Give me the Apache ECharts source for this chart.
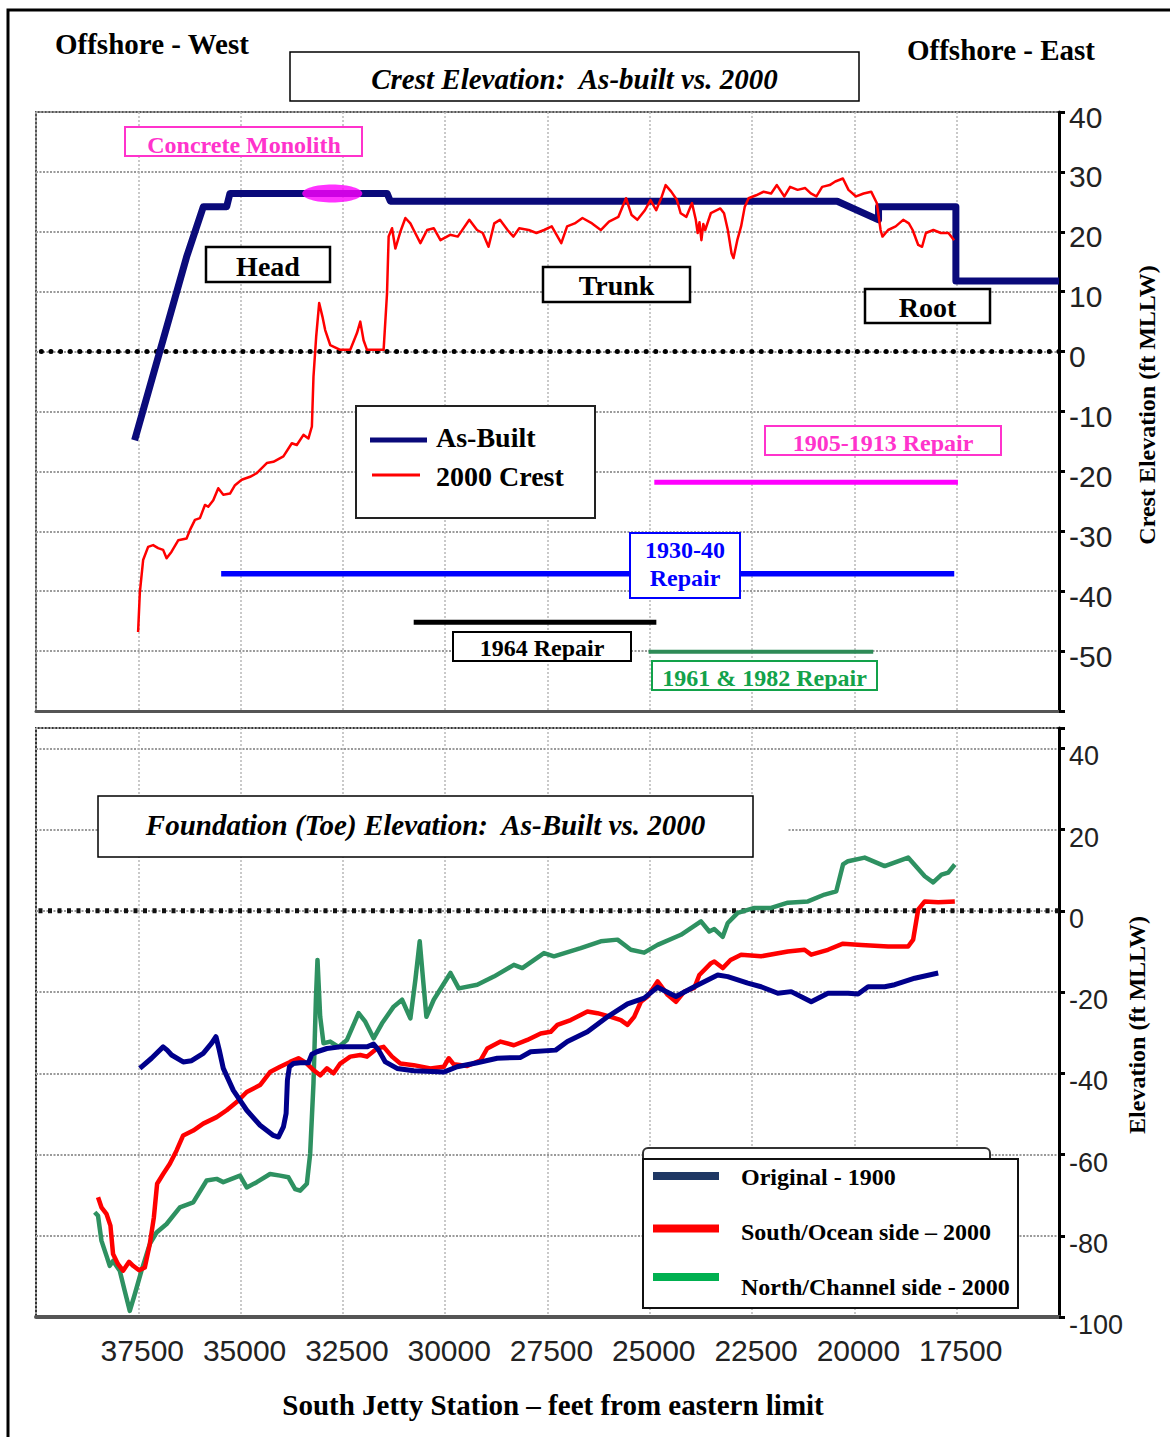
<!DOCTYPE html>
<html>
<head>
<meta charset="utf-8">
<script src="https://cdn.jsdelivr.net/npm/echarts@6/dist/echarts.min.js"></script>
<style>
html, body { margin: 0; padding: 0; background: #fff; }
#chart { width: 1170px; height: 1437px; }
</style>
</head>
<body>
<div id="chart"></div>
<script>
// ---- Axis tick labels ----
const stationTicks = [37500, 35000, 32500, 30000, 27500, 25000, 22500, 20000, 17500];
const crestTicks = [40, 30, 20, 10, 0, -10, -20, -30, -40, -50];
const toeTicks = [40, 20, 0, -20, -40, -60, -80, -100];

// ---- Crest elevation (ft MLLW) by station (ft from eastern limit) ----
const asBuilt = [
  [37590, -14.8], [36320, 15.8], [35910, 24.2], [35340, 24.2], [35260, 26.4],
  [31420, 26.4], [31340, 25.1], [20420, 25.1], [19410, 22.0], [19410, 24.2],
  [17520, 24.2], [17520, 11.8], [15000, 11.8]
];

const monolith = [[32760, 26.4]];

const crest2000 = [
  [37505, -46.8], [37463, -40.3], [37382, -34.8], [37260, -32.6], [37138, -32.3],
  [37015, -32.8], [36893, -33.1], [36809, -34.5], [36687, -33.4], [36525, -31.5],
  [36320, -31.2], [36239, -29.8], [36116, -28.1], [35994, -27.8], [35871, -25.6],
  [35791, -25.9], [35668, -24.8], [35546, -22.8], [35423, -23.9], [35259, -23.7],
  [35137, -22.3], [34973, -21.4], [34769, -20.9], [34605, -20.3], [34360, -18.6],
  [34199, -18.4], [33954, -17.5], [33748, -15.3], [33626, -15.6], [33464, -13.9],
  [33342, -14.5], [33258, -12.5], [33219, -4.2], [33153, 2.5], [33080, 8.1],
  [32999, 5.8], [32933, 3.6], [32810, 1.1], [32565, 0.3], [32320, 0.3],
  [32156, 3.1], [32075, 5.0], [31995, 1.9], [31911, 0.3], [31505, 0.3],
  [31422, 9.7], [31382, 19.2], [31299, 20.6], [31218, 17.2], [31096, 20.0],
  [30973, 22.3], [30851, 21.4], [30770, 20.3], [30606, 18.1], [30442, 20.3],
  [30280, 20.6], [30116, 18.6], [29879, 19.5], [29693, 19.2], [29411, 22.0],
  [29222, 20.3], [29083, 19.8], [28941, 17.5], [28801, 21.4], [28662, 22.0],
  [28476, 20.3], [28333, 19.2], [28191, 20.6], [27959, 20.3], [27770, 19.8],
  [27584, 20.3], [27396, 20.9], [27163, 18.1], [27021, 20.9], [26835, 21.4],
  [26646, 22.3], [26411, 21.4], [26198, 20.3], [25997, 21.7], [25767, 22.5],
  [25581, 25.6], [25444, 22.8], [25304, 22.0], [25120, 23.6], [24983, 25.3],
  [24844, 23.6], [24706, 25.9], [24613, 27.8], [24476, 26.7], [24337, 25.3],
  [24246, 23.1], [24106, 22.5], [23969, 24.8], [23876, 22.0], [23830, 19.8],
  [23786, 21.6], [23739, 18.6], [23692, 21.3], [23646, 20.3], [23509, 23.1],
  [23276, 23.9], [23186, 23.1], [23093, 20.3], [23002, 16.4], [22955, 15.6],
  [22862, 18.6], [22769, 20.9], [22679, 24.2], [22586, 25.6], [22402, 26.1],
  [22218, 26.7], [22035, 26.4], [21895, 27.8], [21711, 25.9], [21572, 27.5],
  [21388, 27.0], [21202, 27.3], [21065, 26.4], [20928, 25.9], [20788, 27.5],
  [20604, 27.8], [20467, 28.4], [20281, 28.9], [20144, 27.0], [19960, 25.9],
  [19774, 26.4], [19590, 26.7], [19453, 24.8], [19360, 20.3], [19314, 19.2],
  [19177, 20.3], [18991, 20.9], [18807, 22.0], [18669, 21.4], [18577, 20.3],
  [18440, 17.8], [18346, 17.5], [18253, 19.8], [18070, 20.3], [17886, 19.8],
  [17702, 19.8], [17563, 18.6]
];

// Repair campaigns: station extent, drawn at a fixed elevation row
const repair1905 = [[24890, -21.8], [17470, -21.8]];
const repair1930 = [[35475, -37.1], [17560, -37.1]];
const repair1964 = [[30770, -45.2], [24840, -45.2]];
const repair1961 = [[25030, -50.1], [19540, -50.1]];

// ---- Foundation (toe) elevation (ft MLLW) ----
const original1900 = [
  [37463, -38.8], [37177, -36.3], [36893, -33.5], [36795, -34.3], [36687, -35.5],
  [36403, -37.2], [36197, -36.9], [35913, -35.1], [35707, -32.6], [35602, -31.0],
  [35521, -34.3], [35423, -38.8], [35178, -44.2], [34850, -49.1], [34524, -52.8],
  [34199, -55.3], [34076, -55.7], [33954, -53.2], [33888, -49.9], [33856, -41.7],
  [33807, -38.4], [33709, -37.6], [33545, -37.4], [33342, -37.4], [33258, -35.3],
  [33136, -34.7], [32891, -33.9], [32565, -33.5], [31911, -33.5], [31750, -32.8],
  [31627, -34.3], [31463, -37.2], [31177, -38.8], [30770, -39.4], [30036, -39.7],
  [29707, -38.4], [29217, -37.4], [28728, -36.3], [28157, -36.1], [27912, -34.7],
  [27300, -34.3], [27013, -32.2], [26524, -29.8], [26034, -26.1], [25544, -22.9],
  [25138, -21.5], [24810, -18.8], [24361, -21.1], [23913, -18.7], [23340, -15.8],
  [23095, -16.2], [22605, -17.8], [22280, -18.7], [21871, -20.3], [21545, -19.9],
  [21055, -22.4], [20646, -20.3], [20156, -20.3], [19911, -20.5], [19666, -18.7],
  [19260, -18.7], [19015, -18.2], [18525, -16.6], [17952, -15.3]
];

const southOcean2000 = [
  [38484, -70.5], [38401, -73.0], [38279, -74.6], [38181, -77.5], [38117, -84.5],
  [37995, -87.0], [37872, -88.6], [37725, -86.4], [37627, -87.4], [37480, -88.5],
  [37341, -87.8], [37218, -82.0], [37120, -75.5], [37040, -67.2], [36893, -64.8],
  [36729, -62.3], [36564, -59.0], [36403, -55.3], [36158, -54.1], [35913, -52.4],
  [35585, -50.8], [35340, -49.1], [35095, -47.1], [34850, -44.6], [34524, -42.9],
  [34280, -39.7], [34035, -38.4], [33790, -37.2], [33587, -36.3], [33381, -37.6],
  [33219, -39.2], [33055, -40.5], [32891, -38.8], [32729, -40.0], [32565, -37.6],
  [32320, -35.9], [32075, -35.5], [31911, -35.9], [31667, -33.9], [31505, -33.5],
  [31299, -35.9], [31096, -37.6], [30770, -38.0], [30361, -38.8], [30036, -38.4],
  [29913, -36.3], [29791, -37.8], [29462, -38.2], [29137, -36.8], [28973, -33.9],
  [28647, -32.2], [28321, -33.1], [27993, -31.8], [27667, -30.2], [27422, -29.8],
  [27258, -28.1], [26933, -26.9], [26524, -24.8], [26279, -25.2], [25953, -26.1],
  [25708, -26.9], [25544, -28.1], [25382, -26.1], [25218, -22.4], [25054, -21.1],
  [24810, -17.4], [24564, -20.7], [24361, -22.4], [24158, -19.9], [23913, -19.0],
  [23790, -15.8], [23504, -12.9], [23423, -12.5], [23218, -14.1], [23027, -12.1],
  [22769, -10.8], [22280, -11.2], [21626, -10.0], [21219, -9.6], [21055, -10.8],
  [20646, -9.6], [20279, -8.1], [19831, -8.4], [19177, -8.8], [18687, -8.8],
  [18564, -7.1], [18442, 0.3], [18281, 2.3], [17952, 2.1], [17546, 2.3]
];

const northChannel2000 = [
  [38565, -74.2], [38484, -75.1], [38401, -81.2], [38279, -84.9], [38198, -87.4],
  [38117, -86.2], [37953, -88.6], [37831, -93.6], [37708, -98.5], [37586, -94.4],
  [37422, -88.6], [37218, -82.0], [37054, -79.2], [36809, -77.1], [36484, -73.0],
  [36158, -71.8], [35830, -66.4], [35585, -66.0], [35423, -66.8], [35014, -65.2],
  [34850, -68.1], [34605, -66.8], [34280, -64.8], [34035, -65.2], [33831, -65.6],
  [33667, -68.5], [33545, -68.9], [33381, -67.2], [33300, -59.8], [33219, -42.5],
  [33160, -21.9], [33121, -12.1], [33055, -26.1], [32974, -32.6], [32810, -32.2],
  [32607, -33.5], [32401, -31.8], [32117, -25.2], [31953, -27.3], [31750, -31.4],
  [31544, -27.7], [31260, -23.6], [31054, -21.9], [30851, -26.5], [30729, -17.0],
  [30623, -7.5], [30540, -17.0], [30459, -26.1], [30280, -21.9], [29871, -15.3],
  [29668, -19.1], [29217, -18.2], [28811, -16.2], [28321, -13.3], [28116, -14.1],
  [27586, -10.4], [27342, -11.2], [26688, -9.2], [26198, -7.5], [25789, -7.1],
  [25463, -9.6], [25138, -10.3], [24810, -8.4], [24239, -5.9], [23749, -2.6],
  [23546, -5.1], [23423, -4.5], [23218, -6.4], [23095, -3.0], [22850, -0.5],
  [22444, 0.7], [22035, 0.7], [21626, 2.0], [21136, 2.3], [20729, 4.0],
  [20443, 4.8], [20278, 11.4], [20156, 12.2], [19749, 13.1], [19260, 11.0],
  [18687, 13.1], [18281, 8.5], [18075, 7.0], [17871, 8.9], [17707, 9.4],
  [17546, 11.4]
];

// Mean lower low water datum, spanning the full station range
const datum = [[15000, 0], [40000, 0]];

// ---- Drawing ----
const serif = '"Liberation Serif", "Times New Roman", serif';
const sans = '"Liberation Sans", Arial, sans-serif';

function textEl(x, y, text, size, fill, opts) {
  opts = opts || {};
  const align = opts.align || 'center';
  return {
    type: 'text', z: 40,
    x: x, y: y, rotation: opts.rotation || 0,
    style: {
      x: 0, y: 0, text: text, fill: fill || '#000',
      font: (opts.italic ? 'italic ' : '') + 'bold ' + size + 'px ' + serif,
      lineHeight: opts.lineHeight,
      textAlign: align, textVerticalAlign: 'middle',
      align: align, verticalAlign: 'middle'
    }
  };
}

function boxEl(x, y, w, h, stroke, lw, r) {
  return {
    type: 'rect', z: 35,
    shape: { x: x, y: y, width: w, height: h, r: r || 0 },
    style: { fill: '#fff', stroke: stroke, lineWidth: lw }
  };
}

function labelBox(x, y, w, h, tx, ty, text, size, color, lw, opts) {
  return [boxEl(x, y, w, h, color, lw), textEl(tx, ty, text, size, color, opts)];
}

const graphics = [].concat(
  // outer frame
  [{ type: 'polyline', z: 50, shape: { points: [[8, 1437], [8, 10], [1170, 10]] },
     style: { stroke: '#000', lineWidth: 3, fill: null } }],
  [textEl(55, 44, 'Offshore - West', 29, '#000', { align: 'left' }),
   textEl(907, 49.5, 'Offshore - East', 29, '#000', { align: 'left' })],
  labelBox(290, 52, 569, 49, 574.5, 78.5, 'Crest Elevation:  As-built vs. 2000', 29, '#000', 1.5, { italic: true }),
  labelBox(125, 127, 237, 29, 244, 144.5, 'Concrete Monolith', 24, '#ff33cc', 2),
  labelBox(206, 247, 124, 35, 268, 266, 'Head', 28, '#000', 2.5),
  labelBox(543, 267, 147, 35, 616.5, 285, 'Trunk', 28, '#000', 2.5),
  labelBox(865, 289, 125, 34, 927.5, 307.5, 'Root', 28, '#000', 2.5),
  labelBox(765, 426, 236, 29, 883, 443, '1905-1913 Repair', 24, '#ff33cc', 2),
  labelBox(630, 533, 110, 65, 685, 564, '1930-40\nRepair', 24, '#0000ff', 2, { lineHeight: 28.5 }),
  labelBox(453, 632, 178, 29, 542, 648, '1964 Repair', 24, '#000', 2),
  labelBox(652, 661, 225, 29, 764.5, 678, '1961 & 1982 Repair', 24, '#12a24a', 2),
  // crest legend
  [boxEl(356, 406, 239, 112, '#222', 2),
   { type: 'line', z: 40, shape: { x1: 370, y1: 440, x2: 427, y2: 440 }, style: { stroke: '#0a0a7a', lineWidth: 5 } },
   textEl(436, 437.5, 'As-Built', 28, '#000', { align: 'left' }),
   { type: 'line', z: 40, shape: { x1: 372, y1: 475, x2: 420, y2: 475 }, style: { stroke: '#ff0000', lineWidth: 3 } },
   textEl(436, 476.5, '2000 Crest', 28, '#000', { align: 'left' })],
  // toe panel title
  [{ type: 'rect', z: 34, shape: { x: 753, y: 826, width: 34, height: 10 }, style: { fill: '#fff' } }],
  labelBox(98, 796, 655, 61, 425.5, 824.5, 'Foundation (Toe) Elevation:  As-Built vs. 2000', 29, '#000', 1.5, { italic: true }),
  // toe legend
  [boxEl(643, 1148, 347, 40, '#333', 2, 5),
   boxEl(643, 1159, 375, 149, '#111', 2),
   { type: 'rect', z: 40, shape: { x: 653, y: 1172, width: 66, height: 8 }, style: { fill: '#1f3864' } },
   { type: 'rect', z: 40, shape: { x: 653, y: 1224.5, width: 66, height: 8 }, style: { fill: '#ff0000' } },
   { type: 'rect', z: 40, shape: { x: 653, y: 1273, width: 66, height: 8 }, style: { fill: '#00b050' } },
   textEl(741, 1176.5, 'Original - 1900', 24, '#000', { align: 'left' }),
   textEl(741, 1231.5, 'South/Ocean side \u2013 2000', 24, '#000', { align: 'left' }),
   textEl(741, 1286.5, 'North/Channel side - 2000', 24, '#000', { align: 'left' })],
  // axis titles
  [textEl(1147, 405, 'Crest Elevation (ft MLLW)', 24, '#000', { rotation: Math.PI / 2 }),
   textEl(1137, 1025, 'Elevation (ft MLLW)', 24, '#000', { rotation: Math.PI / 2 }),
   textEl(553, 1405, 'South Jetty Station \u2013 feet from eastern limit', 29, '#000')]
);

function stationAxis(gridIndex, showLabels) {
  return {
    type: 'value', gridIndex: gridIndex, inverse: true,
    min: 15000, max: 40000, interval: 2500,
    axisLine: { show: true, onZero: false, lineStyle: { color: '#555', width: showLabels ? 4 : 3 } },
    axisTick: { show: false },
    axisLabel: {
      show: showLabels, margin: 18, fontSize: 30, color: '#222', fontFamily: sans,
      padding: [0, 0, 0, 8],
      formatter: function (v) { return stationTicks.indexOf(v) >= 0 ? String(v) : ''; }
    },
    splitLine: { show: true, lineStyle: { color: '#b8b8b8', width: 1.5, type: [2, 2] } }
  };
}

// Elevation labels sit a little below their tick: top-aligned text in a short line box
function elevAxis(gridIndex, min, max, interval, ticks, fontSize, shift) {
  return {
    type: 'value', gridIndex: gridIndex, position: 'right',
    min: min, max: max, interval: interval,
    axisLine: { show: true, onZero: false, lineStyle: { color: '#000', width: 3 } },
    axisTick: { show: true, length: 6, lineStyle: { color: '#000', width: 3 } },
    axisLabel: {
      margin: 10, fontSize: fontSize, color: '#222', fontFamily: sans,
      verticalAlign: 'top', lineHeight: shift * 2,
      formatter: function (v) { return ticks.indexOf(v) >= 0 ? String(v) : ''; }
    },
    splitLine: { show: true, lineStyle: { color: '#9a9a9a', width: 2, type: [2, 1.5] } }
  };
}

function lineSeries(name, data, color, width, z, xi, extra) {
  return Object.assign({
    name: name, type: 'line', data: data, xAxisIndex: xi, yAxisIndex: xi,
    symbol: 'none', silent: true, z: z,
    lineStyle: { color: color, width: width, join: 'round' }
  }, extra || {});
}

const option = {
  animation: false,
  backgroundColor: '#fff',
  grid: [
    { left: 36, right: 111, top: 112, bottom: 726, show: true, borderColor: '#555', borderWidth: 2 },
    { left: 36, right: 111, top: 728, bottom: 120, show: true, borderColor: '#333', borderWidth: 2 }
  ],
  xAxis: [stationAxis(0, false), stationAxis(1, true)],
  yAxis: [
    elevAxis(0, -60, 40, 10, crestTicks, 30, 5),
    elevAxis(1, -100, 45, 20, toeTicks, 27, 8)
  ],
  series: [
    lineSeries('MLLW', datum, '#000', 5, 1, 0, { lineStyle: { color: '#000', width: 5, type: [0.1, 9.5], cap: 'round' } }),
    lineSeries('1905-1913 Repair', repair1905, '#ff00ff', 5, 2, 0),
    lineSeries('1930-40 Repair', repair1930, '#0000ff', 5.5, 2, 0),
    lineSeries('1964 Repair', repair1964, '#000', 5, 2, 0),
    lineSeries('1961 & 1982 Repair', repair1961, '#2e8b57', 4, 2, 0),
    lineSeries('As-Built', asBuilt, '#0a0a7a', 7, 3, 0),
    {
      name: 'Concrete Monolith', type: 'scatter', data: monolith, xAxisIndex: 0, yAxisIndex: 0,
      symbol: 'path://M0,5 C0,2.24 4.48,0 10,0 C15.52,0 20,2.24 20,5 C20,7.76 15.52,10 10,10 C4.48,10 0,7.76 0,5 Z',
      symbolSize: [60, 18], itemStyle: { color: '#ff00ff' }, silent: true, z: 4
    },
    lineSeries('2000 Crest', crest2000, '#ff0000', 2.5, 5, 0),

    lineSeries('MLLW', datum, '#111', 5, 1, 1, { lineStyle: { color: '#111', width: 5, type: [4, 5.5] } }),
    lineSeries('North/Channel side - 2000', northChannel2000, '#2e9161', 4.5, 3, 1),
    lineSeries('South/Ocean side \u2013 2000', southOcean2000, '#ff0000', 4.5, 4, 1),
    lineSeries('Original - 1900', original1900, '#00008b', 5, 5, 1)
  ],
  graphic: { elements: graphics }
};

const chart = echarts.init(document.getElementById('chart'), null, { renderer: 'svg' });
chart.setOption(option);
</script>
</body>
</html>
